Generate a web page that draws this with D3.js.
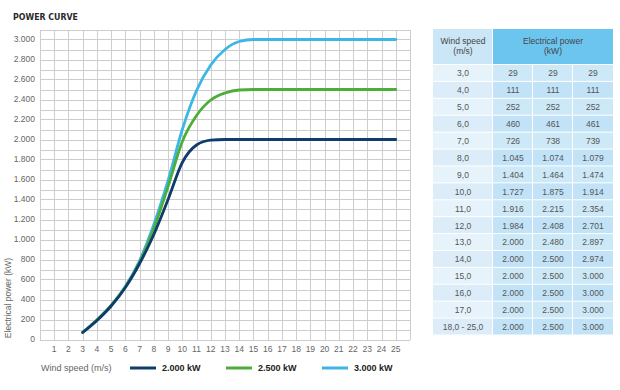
<!DOCTYPE html>
<html>
<head>
<meta charset="utf-8">
<script src="https://cdn.jsdelivr.net/npm/d3@7"></script>
<style>
  body { margin: 0; background: #fff; }
  svg { display: block; font-family: "Liberation Sans", Arial, sans-serif; }
</style>
</head>
<body>
<svg id="chart" width="620" height="390"></svg>
<script>
// curve values (kW)
const windSpeeds = [3, 4, 5, 6, 7, 8, 9, 10, 11, 12, 13, 14, 15, 16, 17, 18, 19, 20, 21, 22, 23, 24, 25];
const power2000 = [70, 190, 335, 520, 760, 1050, 1400, 1770, 1945, 1993, 2000, 2000, 2000, 2000, 2000, 2000, 2000, 2000, 2000, 2000, 2000, 2000, 2000];
const power2500 = [72, 196, 342, 527, 775, 1110, 1530, 1980, 2240, 2395, 2465, 2495, 2500, 2500, 2500, 2500, 2500, 2500, 2500, 2500, 2500, 2500, 2500];
const power3000 = [70, 194, 340, 530, 790, 1150, 1590, 2100, 2490, 2745, 2900, 2980, 3000, 3000, 3000, 3000, 3000, 3000, 3000, 3000, 3000, 3000, 3000];

const seriesNames = ['2.000 kW', '2.500 kW', '3.000 kW'];
const seriesColors = ['#0f3b6d', '#4cae38', '#3cb6e6'];

const xTicks = d3.range(1, 26);
const yTicks = d3.range(0, 3001, 200);

// table on the right
const tableSpeeds = ['3,0', '4,0', '5,0', '6,0', '7,0', '8,0', '9,0', '10,0', '11,0', '12,0', '13,0', '14,0', '15,0', '16,0', '17,0', '18,0 - 25,0'];
const table2000 = [29, 111, 252, 460, 726, 1045, 1404, 1727, 1916, 1984, 2000, 2000, 2000, 2000, 2000, 2000];
const table2500 = [29, 111, 252, 461, 738, 1074, 1464, 1875, 2215, 2408, 2480, 2500, 2500, 2500, 2500, 2500];
const table3000 = [29, 111, 252, 461, 739, 1079, 1474, 1914, 2354, 2701, 2897, 2974, 3000, 3000, 3000, 3000];

const locale = d3.formatLocale({ decimal: ',', thousands: '.', grouping: [3], currency: ['', ''] });
const fmt = locale.format(',d');

const svg = d3.select('#chart');

svg.append('text')
  .attr('x', 13).attr('y', 19.5)
  .style('font-family', '"DejaVu Sans Condensed", "DejaVu Sans", sans-serif')
  .style('font-weight', 'bold')
  .style('font-size', '9.5px')
  .attr('fill', '#2a2a2a')
  .attr('textLength', 65)
  .attr('lengthAdjust', 'spacingAndGlyphs')
  .text('POWER CURVE');

const x = d3.scaleLinear().domain([0, 26]).range([40, 410]);
const y = d3.scaleLinear().domain([0, 3100]).range([339.5, 29.5]);

// grid
const grid = svg.append('g').attr('shape-rendering', 'crispEdges').attr('stroke', '#cdcdcd').attr('stroke-width', 1);
grid.selectAll('.vgrid')
  .data(d3.range(0, 27))
  .enter().append('line')
    .attr('x1', d => Math.round(x(d)) + 0.5).attr('x2', d => Math.round(x(d)) + 0.5)
    .attr('y1', y(3100)).attr('y2', y(0));
grid.selectAll('.hgrid')
  .data(d3.range(0, 3101, 100))
  .enter().append('line')
    .attr('x1', x(0)).attr('x2', x(26))
    .attr('y1', d => Math.round(y(d)) + 0.5).attr('y2', d => Math.round(y(d)) + 0.5);

// y labels
svg.append('g').selectAll('text')
  .data(yTicks)
  .enter().append('text')
    .attr('x', 35).attr('y', d => y(d))
    .attr('dy', '0.35em')
    .attr('text-anchor', 'end')
    .attr('fill', '#666')
    .style('font-size', '8.5px')
    .text(d => fmt(d));

// x labels
svg.append('g').selectAll('text')
  .data(xTicks)
  .enter().append('text')
    .attr('x', d => x(d)).attr('y', 352)
    .attr('text-anchor', 'middle')
    .attr('fill', '#666')
    .style('font-size', '8.5px')
    .text(d => d);

svg.append('text')
  .attr('transform', 'translate(11,298) rotate(-90)')
  .attr('text-anchor', 'middle')
  .attr('fill', '#666')
  .style('font-size', '8.5px')
  .text('Electrical power (kW)');

// curves
const line = d3.line()
  .x((d, i) => x(windSpeeds[i]))
  .y(d => y(d))
  .curve(d3.curveMonotoneX);

const seriesData = [power2000, power2500, power3000];
[2, 1, 0].forEach(i => {
  svg.append('path')
    .datum(seriesData[i])
    .attr('fill', 'none')
    .attr('stroke', seriesColors[i])
    .attr('stroke-width', 2.8)
    .attr('stroke-linecap', 'round')
    .attr('d', line);
});

// legend
svg.append('text')
  .attr('x', 41).attr('y', 371)
  .attr('fill', '#666')
  .style('font-size', '9px')
  .text('Wind speed (m/s)');

const legendX = [130, 226, 322];
seriesNames.forEach((name, i) => {
  svg.append('line')
    .attr('x1', legendX[i]).attr('x2', legendX[i] + 26)
    .attr('y1', 368).attr('y2', 368)
    .attr('stroke', seriesColors[i])
    .attr('stroke-width', 3);
  svg.append('text')
    .attr('x', legendX[i] + 32).attr('y', 371)
    .attr('fill', '#222')
    .style('font-size', '9px')
    .style('font-weight', 'bold')
    .text(name);
});

// table
const colX = [433, 493, 533, 573, 613];
const headTop = 29, headBottom = 65, tableBottom = 335.5;
const rowY = d3.scaleBand().domain(d3.range(tableSpeeds.length)).range([headBottom, tableBottom]);
const tbl = svg.append('g').style('font-size', '8.5px');

tbl.append('rect')
  .attr('x', colX[0]).attr('y', headTop)
  .attr('width', colX[1] - colX[0] - 1).attr('height', headBottom - headTop - 1)
  .attr('fill', '#cbe6f7');
tbl.append('rect')
  .attr('x', colX[1]).attr('y', headTop)
  .attr('width', colX[4] - colX[1]).attr('height', headBottom - headTop - 1)
  .attr('fill', '#6cc5ef');

const headText = (cx, lines) => {
  const t = tbl.append('text').attr('x', cx).attr('y', 44).attr('text-anchor', 'middle').attr('fill', '#444');
  lines.forEach((l, j) => t.append('tspan').attr('x', cx).attr('dy', j ? 9.5 : 0).text(l));
};
headText((colX[0] + colX[1]) / 2, ['Wind speed', '(m/s)']);
headText((colX[1] + colX[4]) / 2, ['Electrical power', '(kW)']);

const tableCols = [table2000, table2500, table3000];
tableSpeeds.forEach((s, r) => {
  const ry = rowY(r), rh = rowY.bandwidth();
  tbl.append('rect')
    .attr('x', colX[0]).attr('y', ry)
    .attr('width', colX[1] - colX[0] - 1).attr('height', rh - 1)
    .attr('fill', r % 2 ? '#dcedf9' : '#e6f3fb');
  tbl.append('text')
    .attr('x', (colX[0] + colX[1]) / 2).attr('y', ry + rh / 2)
    .attr('dy', '0.35em').attr('text-anchor', 'middle').attr('fill', '#555')
    .text(s);
  tableCols.forEach((col, c) => {
    tbl.append('rect')
      .attr('x', colX[c + 1]).attr('y', ry)
      .attr('width', colX[c + 2] - colX[c + 1] - (c < 2 ? 1 : 0)).attr('height', rh - 1)
      .attr('fill', r % 2 ? '#c2e3f7' : '#cde9f8');
    tbl.append('text')
      .attr('x', (colX[c + 1] + colX[c + 2]) / 2).attr('y', ry + rh / 2)
      .attr('dy', '0.35em').attr('text-anchor', 'middle').attr('fill', '#555')
      .text(fmt(col[r]));
  });
});
</script>
</body>
</html>
